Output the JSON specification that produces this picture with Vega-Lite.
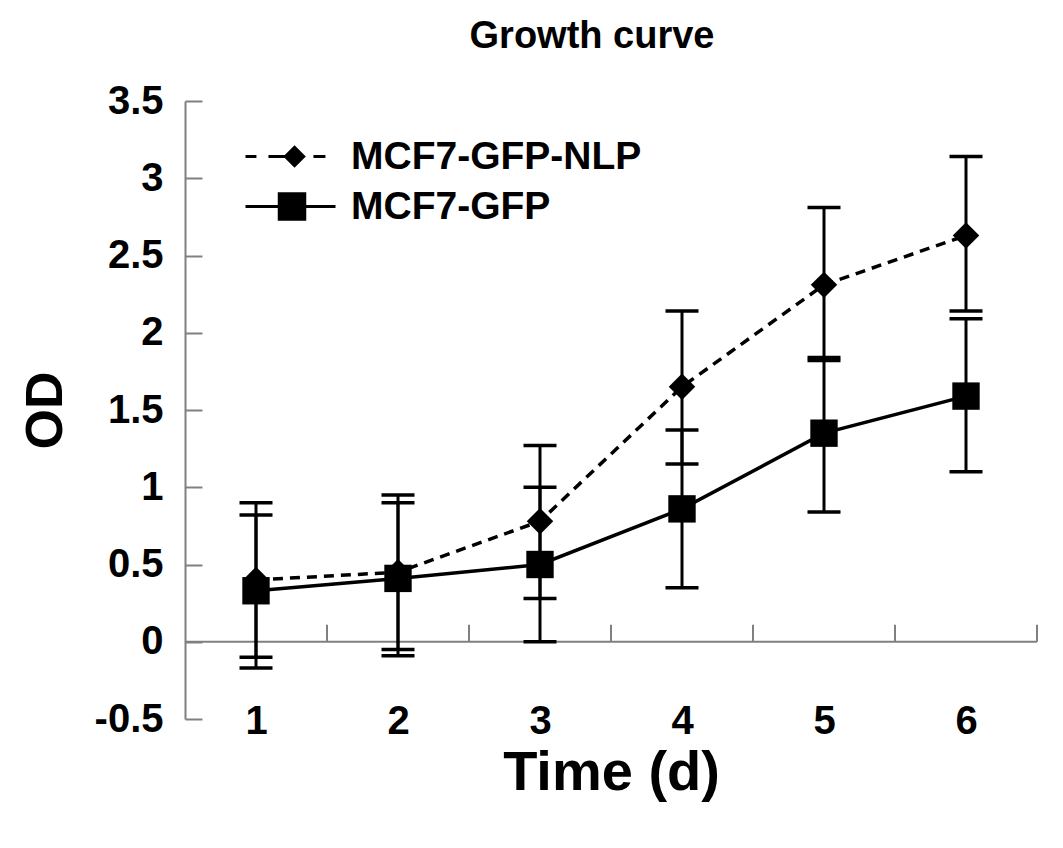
{
  "$schema": "https://vega.github.io/schema/vega-lite/v6.json",
  "width": 852,
  "height": 618,
  "autosize": {"type": "none"},
  "padding": {"left": 185, "top": 101, "right": 26, "bottom": 129},
  "background": "white",
  "title": {
    "text": "Growth curve",
    "font": "Liberation Sans",
    "fontWeight": "bold",
    "fontSize": 38,
    "color": "black",
    "anchor": "middle",
    "frame": "group",
    "offset": 25,
    "dx": -19
  },
  "config": {
    "view": {"stroke": null},
    "font": "Liberation Sans"
  },
  "datasets": {
    "growth": [
      {"day": 1, "series": "MCF7-GFP-NLP", "od": 0.40, "lo": -0.10, "hi": 0.90},
      {"day": 2, "series": "MCF7-GFP-NLP", "od": 0.45, "lo": -0.05, "hi": 0.95},
      {"day": 3, "series": "MCF7-GFP-NLP", "od": 0.78, "lo": 0.28, "hi": 1.27},
      {"day": 4, "series": "MCF7-GFP-NLP", "od": 1.65, "lo": 1.15, "hi": 2.14},
      {"day": 5, "series": "MCF7-GFP-NLP", "od": 2.31, "lo": 1.82, "hi": 2.81},
      {"day": 6, "series": "MCF7-GFP-NLP", "od": 2.63, "lo": 2.14, "hi": 3.14},
      {"day": 1, "series": "MCF7-GFP", "od": 0.33, "lo": -0.17, "hi": 0.82},
      {"day": 2, "series": "MCF7-GFP", "od": 0.41, "lo": -0.09, "hi": 0.90},
      {"day": 3, "series": "MCF7-GFP", "od": 0.50, "lo": 0.00, "hi": 1.00},
      {"day": 4, "series": "MCF7-GFP", "od": 0.86, "lo": 0.35, "hi": 1.37},
      {"day": 5, "series": "MCF7-GFP", "od": 1.35, "lo": 0.84, "hi": 1.84},
      {"day": 6, "series": "MCF7-GFP", "od": 1.59, "lo": 1.10, "hi": 2.09}
    ],
    "boundaries": [
      {"b": 1.5}, {"b": 2.5}, {"b": 3.5}, {"b": 4.5}, {"b": 5.5}, {"b": 6.5}
    ]
  },
  "layer": [
    {
      "data": {"values": [{"zero": 0}]},
      "mark": {"type": "rule", "color": "#808080", "strokeWidth": 2},
      "encoding": {
        "y": {"field": "zero", "type": "quantitative", "scale": {"domain": [-0.5, 3.5]}}
      }
    },
    {
      "data": {"name": "boundaries"},
      "mark": {"type": "rule", "color": "#808080", "strokeWidth": 2},
      "encoding": {
        "x": {"field": "b", "type": "quantitative", "scale": {"domain": [0.5, 6.5]}},
        "y": {"datum": 0, "type": "quantitative"},
        "y2": {"datum": 0.11}
      }
    },
    {
      "data": {"name": "growth"},
      "mark": {"type": "rule", "color": "black", "strokeWidth": 3},
      "encoding": {
        "x": {"field": "day", "type": "quantitative"},
        "y": {"field": "lo", "type": "quantitative"},
        "y2": {"field": "hi"}
      }
    },
    {
      "data": {"name": "growth"},
      "mark": {"type": "tick", "orient": "horizontal", "color": "black", "size": 33, "thickness": 3.5, "opacity": 1},
      "encoding": {
        "x": {"field": "day", "type": "quantitative"},
        "y": {"field": "lo", "type": "quantitative"}
      }
    },
    {
      "data": {"name": "growth"},
      "mark": {"type": "tick", "orient": "horizontal", "color": "black", "size": 33, "thickness": 3.5, "opacity": 1},
      "encoding": {
        "x": {"field": "day", "type": "quantitative"},
        "y": {"field": "hi", "type": "quantitative"}
      }
    },
    {
      "data": {"name": "growth"},
      "transform": [{"filter": "datum.series === 'MCF7-GFP-NLP'"}],
      "mark": {"type": "line", "color": "black", "strokeWidth": 3.5, "strokeDash": [10, 7]},
      "encoding": {
        "x": {"field": "day", "type": "quantitative"},
        "y": {"field": "od", "type": "quantitative"}
      }
    },
    {
      "data": {"name": "growth"},
      "transform": [{"filter": "datum.series === 'MCF7-GFP'"}],
      "mark": {"type": "line", "color": "black", "strokeWidth": 3.5},
      "encoding": {
        "x": {"field": "day", "type": "quantitative"},
        "y": {"field": "od", "type": "quantitative"}
      }
    },
    {
      "data": {"name": "growth"},
      "transform": [{"filter": "datum.series === 'MCF7-GFP-NLP'"}],
      "mark": {"type": "point", "filled": true, "color": "black", "opacity": 1, "size": 700, "shape": "diamond"},
      "encoding": {
        "x": {"field": "day", "type": "quantitative"},
        "y": {"field": "od", "type": "quantitative"}
      }
    },
    {
      "data": {"name": "growth"},
      "transform": [{"filter": "datum.series === 'MCF7-GFP'"}],
      "mark": {"type": "point", "filled": true, "color": "black", "opacity": 1, "size": 750, "shape": "square"},
      "encoding": {
        "x": {
          "field": "day",
          "type": "quantitative",
          "scale": {"domain": [0.5, 6.5], "nice": false, "zero": false},
          "axis": {
            "values": [1, 2, 3, 4, 5, 6],
            "labelExpr": "'' + datum.value",
            "title": "Time (d)",
            "domain": false,
            "ticks": false,
            "grid": false,
            "labelFont": "Liberation Sans",
            "labelFontWeight": "bold",
            "labelFontSize": 40,
            "labelColor": "black",
            "labelBaseline": "middle",
            "labelPadding": 2,
            "titleFont": "Liberation Sans",
            "titleFontWeight": "bold",
            "titleFontSize": 56,
            "titleColor": "black",
            "titlePadding": 4
          }
        },
        "y": {
          "field": "od",
          "type": "quantitative",
          "scale": {"domain": [-0.5, 3.5], "nice": false, "zero": false},
          "axis": {
            "values": [-0.5, 0, 0.5, 1, 1.5, 2, 2.5, 3, 3.5],
            "labelExpr": "'' + datum.value",
            "title": "OD",
            "grid": false,
            "domainColor": "#808080",
            "domainWidth": 2,
            "tickColor": "#808080",
            "tickWidth": 2,
            "tickSize": -17,
            "labelFont": "Liberation Sans",
            "labelFontWeight": "bold",
            "labelFontSize": 40,
            "labelColor": "black",
            "labelPadding": 39,
            "titleFont": "Liberation Sans",
            "titleFontWeight": "bold",
            "titleFontSize": 52,
            "titleColor": "black",
            "titlePadding": 22
          }
        }
      }
    },
    {
      "data": {"name": "growth"},
      "transform": [{"filter": "false"}],
      "mark": {"type": "point", "filled": true, "fill": "black", "opacity": 1},
      "encoding": {
        "x": {"field": "day", "type": "quantitative"},
        "y": {"field": "od", "type": "quantitative"},
        "shape": {
          "field": "series",
          "type": "nominal",
          "scale": {
            "domain": ["MCF7-GFP-NLP", "MCF7-GFP"],
            "range": [
              "M-1,-0.1H-0.27V0.1H-1Z M0.53,-0.1H1.6V0.1H0.53Z M2.27,-0.75L3.02,0L2.27,0.75L1.52,0Z M3.53,-0.1H4.33V0.1H3.53Z",
              "M-1,-0.1H5V0.1H-1Z M1.15,-0.95H3.05V0.95H1.15Z"
            ]
          },
          "legend": {
            "title": null,
            "orient": "none",
            "legendX": 56,
            "legendY": 36,
            "padding": 0,
            "symbolSize": 900,
            "symbolFillColor": "black",
            "symbolOpacity": 1,
            "labelFont": "Liberation Sans",
            "labelFontWeight": "bold",
            "labelFontSize": 39,
            "labelColor": "black",
            "labelOffset": 71,
            "labelLimit": 500,
            "rowPadding": 10
          }
        }
      }
    }
  ]
}
